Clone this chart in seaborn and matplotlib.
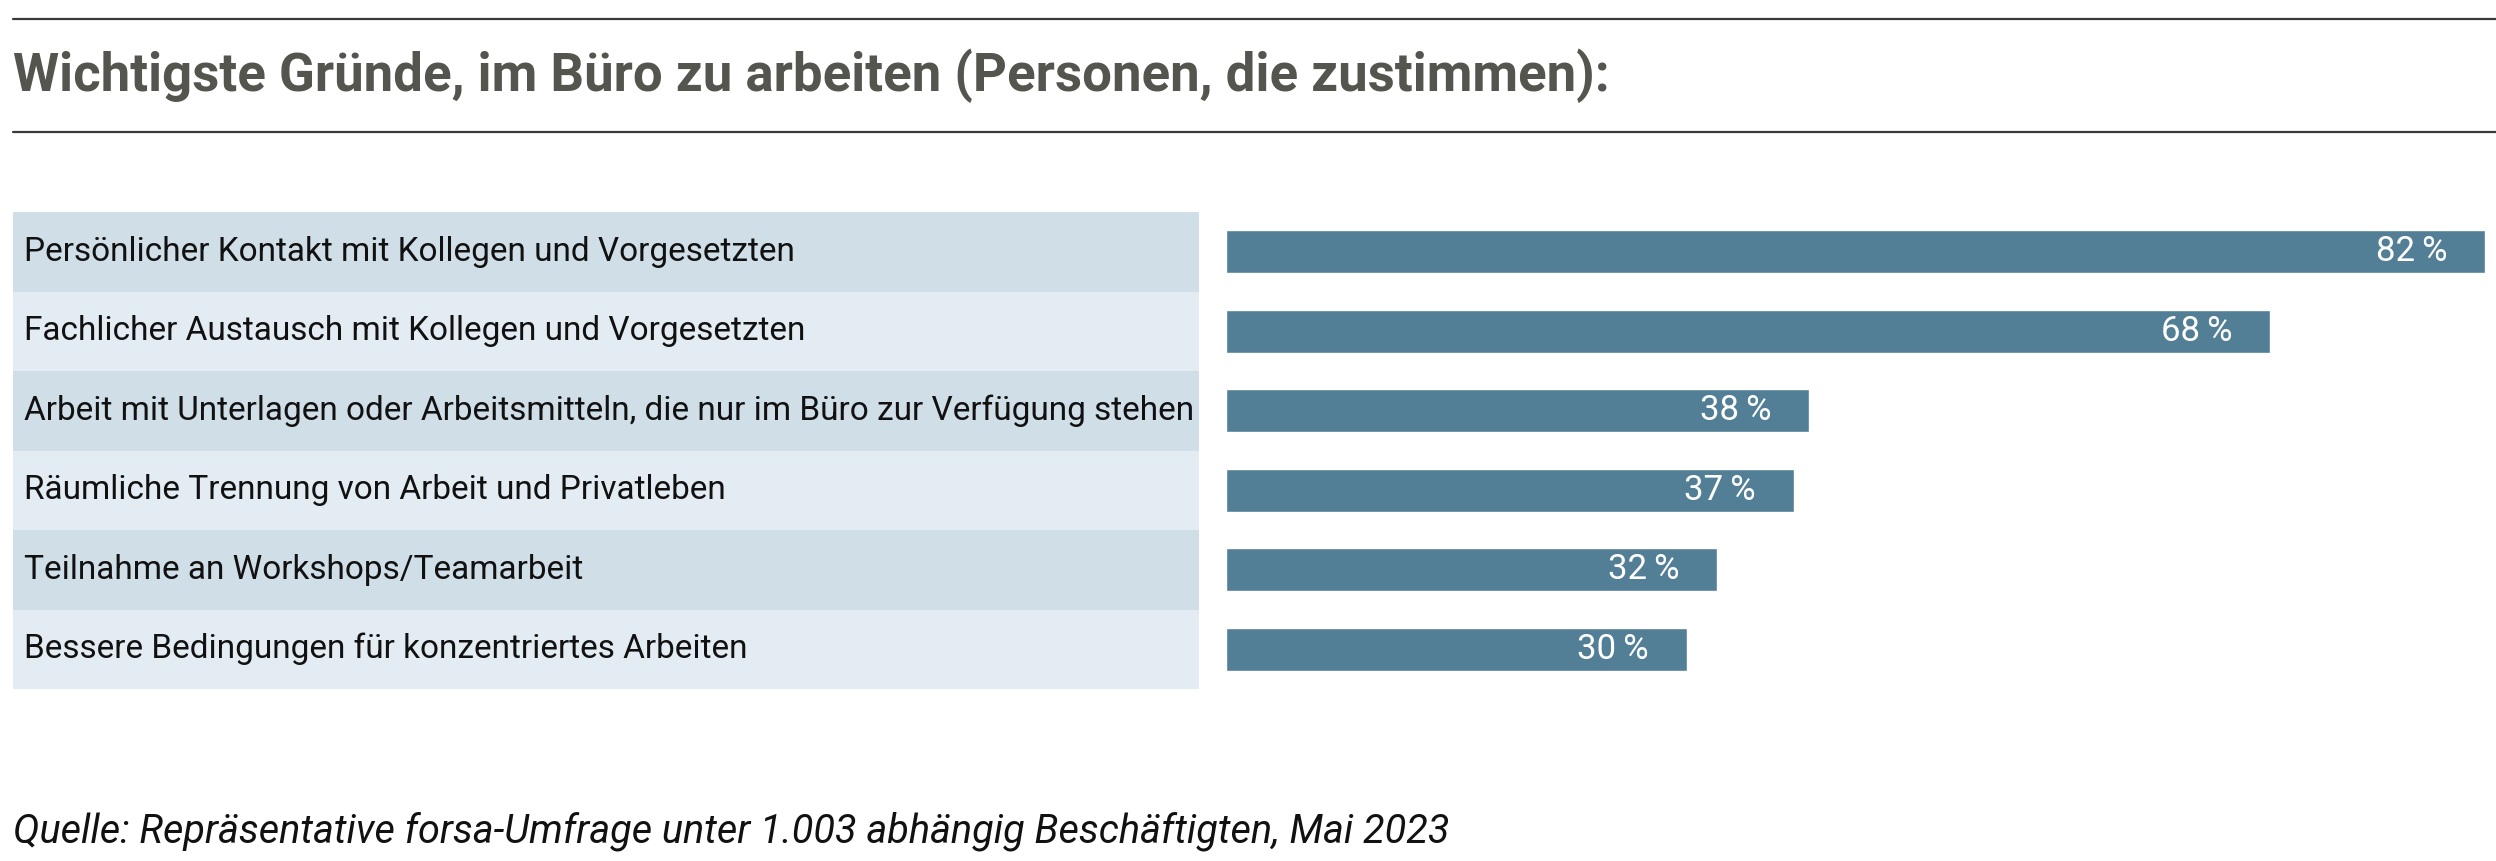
import matplotlib
matplotlib.use('Agg')
import matplotlib.pyplot as plt
from matplotlib.lines import Line2D
from matplotlib.font_manager import fontManager
import seaborn as sns
import pandas as pd

# data
reasons = [
    'Persönlicher Kontakt mit Kollegen und Vorgesetzten',
    'Fachlicher Austausch mit Kollegen und Vorgesetzten',
    'Arbeit mit Unterlagen oder Arbeitsmitteln, die nur im Büro zur Verfügung stehen',
    'Räumliche Trennung von Arbeit und Privatleben',
    'Teilnahme an Workshops/Teamarbeit',
    'Bessere Bedingungen für konzentriertes Arbeiten',
]
shares = [82, 68, 38, 37, 32, 30]

title = 'Wichtigste Gründe, im Büro zu arbeiten (Personen, die zustimmen):'
source = 'Quelle: Repräsentative forsa-Umfrage unter 1.003 abhängig Beschäftigten, Mai 2023'

BAR = '#527f96'
ROW_DARK = '#d0dee7'
ROW_LIGHT = '#e4ecf3'
TITLE_C = '#55554f'

sns.set_style('white')
installed = {f.name for f in fontManager.ttflist}
fam = [f for f in ['Liberation Sans Narrow', 'Roboto', 'DejaVu Sans'] if f in installed]
plt.rcParams['font.family'] = fam

W, H = 2496, 861
fig = plt.figure(figsize=(W / 100, H / 100), dpi=100)


def fx(px):
    return px / W


def fy(py):
    return 1 - py / H


# rules and title
for y in (19, 132):
    fig.add_artist(Line2D([fx(13), 1], [fy(y), fy(y)], color='#3a3a3a', lw=1.6,
                          transform=fig.transFigure))
fig.text(fx(13), fy(76), title, fontsize=38, fontweight='bold', color=TITLE_C,
         va='center', ha='left')

top, bottom = 212, 689
n = len(reasons)

# label panel
ax_lab = fig.add_axes([fx(13), fy(bottom), fx(1199 - 13), (bottom - top) / H])
for i, r in enumerate(reasons):
    ax_lab.axhspan(i - 0.5, i + 0.5, color=ROW_DARK if i % 2 == 0 else ROW_LIGHT, lw=0)
    ax_lab.text(0.009, i, r, fontsize=24, color='#111111',
                va='center', ha='left', transform=ax_lab.get_yaxis_transform())
ax_lab.set_ylim(n - 0.5, -0.5)
ax_lab.set_xlim(0, 1)
ax_lab.axis('off')

# bars
df = pd.DataFrame({'reason': reasons, 'share': shares})
ax = fig.add_axes([fx(1226), fy(bottom), fx(2485 - 1226), (bottom - top) / H])
sns.barplot(data=df, y='reason', x='share', color=BAR, saturation=1, width=0.54,
            ax=ax, orient='h')
ax.set_xlim(0, max(shares))
ax.set_ylim(n - 0.5, -0.5)
for i, v in enumerate(shares):
    ax.annotate(f'{v}\u2009%', xy=(v, i), xytext=(-38, 0), textcoords='offset pixels',
                ha='right', va='center', color='white', fontsize=25)
ax.axis('off')

fig.text(fx(13), fy(831), source, fontsize=28.5, style='italic',
         color='#111111', va='center', ha='left')

fig.savefig('out.png', dpi=100)
